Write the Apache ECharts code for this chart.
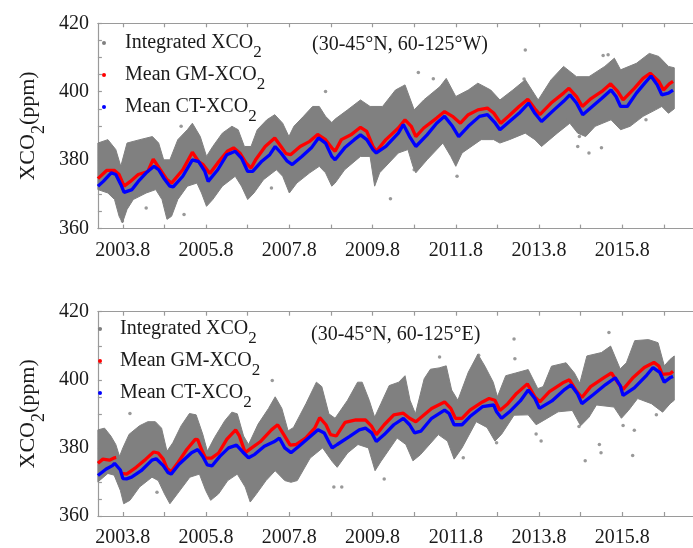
<!DOCTYPE html>
<html><head><meta charset="utf-8">
<script src="https://cdn.jsdelivr.net/npm/echarts@6/dist/echarts.min.js"></script>
<style>html,body{margin:0;padding:0;background:#fff}#c{width:693px;height:548px}</style>
</head><body><div id="c"></div>
<script>
// ---------- tick labels ----------
const tickYears = [2003.8,2004.8,2005.8,2006.8,2007.8,2008.8,2009.8,2010.8,2011.8,2012.8,2013.8,2014.8,2015.8,2016.8];
const labelYears = [2003.8,2005.8,2007.8,2009.8,2011.8,2013.8,2015.8];
const yLabels = [360,380,400,420];
const seriesNames = ['Integrated XCO2','Mean GM-XCO2','Mean CT-XCO2'];
const regionLabels = ['(30-45°N, 60-125°W)','(30-45°N, 60-125°E)'];

// ---------- top panel (30-45N, 60-125W) ----------
const topGmT = [2003.2,2003.41,2003.6,2003.71,2003.83,2003.98,2004.17,2004.4,2004.53,2004.7,2004.86,2004.97,2005.24,2005.47,2005.62,2005.73,2005.89,2006.08,2006.31,2006.46,2006.61,2006.76,2006.88,2006.99,2007.22,2007.45,2007.6,2007.72,2007.83,2008.06,2008.29,2008.48,2008.67,2008.82,2008.9,2009.05,2009.28,2009.51,2009.66,2009.81,2009.89,2010.12,2010.42,2010.58,2010.73,2010.84,2011.03,2011.34,2011.53,2011.72,2011.91,2012.1,2012.33,2012.56,2012.71,2012.88,2013.08,2013.32,2013.53,2013.7,2013.82,2014.09,2014.39,2014.52,2014.7,2014.84,2015.05,2015.31,2015.52,2015.69,2015.82,2016.09,2016.3,2016.47,2016.68,2016.79,2016.93,2017.02];
const topGmV = [374.6,377.0,377.0,375.8,372.4,373.8,375.8,376.7,380.3,377.2,374.3,373.3,377.2,382.3,379.6,378.7,376.1,379.2,382.6,383.6,382.1,379.2,377.7,380.1,384.0,386.5,384.0,381.9,381.6,384.0,385.5,387.5,386.0,383.6,382.6,386.0,387.4,389.6,388.4,384.0,382.6,386.0,389.4,391.8,389.9,386.9,389.4,392.3,394.2,392.8,390.8,393.3,394.7,395.2,393.8,390.8,393.0,395.7,397.8,395.0,393.3,396.7,399.6,401.0,398.6,395.7,398.0,400.1,402.3,400.1,397.6,401.0,403.9,405.4,403.0,400.5,402.3,403.0];
const topCtT = [2003.2,2003.33,2003.52,2003.63,2003.75,2003.83,2004.02,2004.17,2004.36,2004.55,2004.66,2004.78,2004.93,2005.01,2005.24,2005.47,2005.62,2005.77,2005.85,2006.08,2006.3,2006.5,2006.65,2006.8,2006.92,2007.14,2007.33,2007.46,2007.6,2007.75,2007.87,2008.1,2008.33,2008.5,2008.67,2008.82,2008.9,2009.13,2009.36,2009.51,2009.66,2009.81,2009.89,2010.12,2010.42,2010.54,2010.69,2010.84,2011.11,2011.34,2011.53,2011.72,2011.87,2012.1,2012.37,2012.56,2012.75,2012.86,2013.09,2013.32,2013.55,2013.7,2013.86,2014.16,2014.39,2014.54,2014.7,2014.85,2015.08,2015.31,2015.53,2015.65,2015.76,2015.92,2016.14,2016.34,2016.49,2016.64,2016.75,2016.91,2017.02];
const topCtV = [372.4,373.8,376.3,375.8,372.9,370.6,371.4,373.8,376.3,378.2,377.2,374.8,372.4,372.2,375.3,380.1,379.6,376.7,373.8,377.2,381.6,382.6,380.6,376.7,376.7,379.7,381.6,384.0,382.1,379.7,378.7,381.1,383.6,386.5,385.0,381.1,380.1,383.6,386.0,387.4,386.0,383.1,382.1,384.0,387.9,390.4,386.9,384.0,387.4,390.8,392.8,389.9,386.9,389.9,392.8,393.3,390.8,388.9,391.3,393.7,396.7,393.7,391.3,394.7,397.2,399.1,396.7,393.3,395.7,398.1,400.5,398.6,395.7,395.7,399.6,402.5,404.6,402.0,399.1,399.6,400.5];
// envelope of the integrated XCO2 cloud
const topUpT = [2003.2,2003.44,2003.63,2003.75,2003.9,2004.21,2004.51,2004.66,2004.78,2004.93,2005.12,2005.35,2005.47,2005.66,2005.81,2005.96,2006.19,2006.42,2006.57,2006.72,2006.88,2007.03,2007.26,2007.45,2007.64,2007.79,2007.91,2008.14,2008.36,2008.52,2008.67,2008.82,2008.9,2009.2,2009.51,2009.74,2010.04,2010.35,2010.58,2010.8,2011.03,2011.42,2011.57,2011.8,2012.1,2012.33,2012.64,2012.86,2013.17,2013.47,2013.78,2014.09,2014.39,2014.7,2015.0,2015.38,2015.61,2015.76,2016.14,2016.45,2016.68,2016.91,2017.05];
const topUpV = [385.0,386.0,383.1,378.2,385.0,386.0,386.9,385.0,380.1,380.1,386.0,388.9,390.8,386.9,381.1,384.0,387.9,389.9,388.9,384.0,384.0,388.9,391.8,393.3,390.8,386.9,389.9,392.8,395.7,395.7,392.8,391.0,392.0,394.7,397.6,395.7,395.7,400.5,402.0,394.7,397.6,401.5,403.9,398.6,400.5,402.5,400.5,397.6,400.5,403.5,397.6,403.5,407.4,404.4,404.4,407.4,409.8,406.4,408.3,411.2,410.3,407.4,407.0];
const topLoT = [2003.2,2003.44,2003.6,2003.71,2003.79,2003.9,2004.05,2004.36,2004.59,2004.74,2004.86,2004.97,2005.12,2005.35,2005.58,2005.69,2005.81,2005.96,2006.19,2006.5,2006.65,2006.8,2006.95,2007.18,2007.49,2007.64,2007.8,2007.98,2008.29,2008.52,2008.67,2008.82,2008.9,2009.13,2009.51,2009.74,2009.85,2009.97,2010.42,2010.65,2010.77,2010.84,2011.11,2011.49,2011.68,2011.8,2011.95,2012.41,2012.71,2012.86,2013.09,2013.47,2013.7,2013.86,2014.24,2014.54,2014.73,2014.92,2015.15,2015.53,2015.76,2015.99,2016.3,2016.6,2016.75,2016.91,2017.05];
const topLoV = [371.4,370.4,368.5,363.6,361.7,365.6,368.5,370.4,371.4,368.5,362.7,363.6,368.5,372.4,373.3,370.4,366.5,368.5,372.4,375.3,372.4,368.5,370.4,374.3,377.2,375.3,370.4,373.3,376.3,378.2,376.3,372.4,373.3,377.2,381.1,381.1,372.4,376.3,382.1,383.1,378.2,376.3,380.1,385.0,381.1,378.2,382.1,386.0,386.0,385.0,386.0,387.9,386.0,384.0,387.9,390.8,387.9,386.9,389.9,391.8,388.9,389.9,392.8,394.7,395.7,393.7,395.0];
const topOutT = [2003.79,2004.36,2005.27,2007.37,2008.67,2010.9,2011.26,2013.47,2011.83,2010.23,2010.8,2014.73,2015.0,2015.3,2014.77,2013.44,2015.34,2015.46,2005.2,2014.43,2016.37];
const topOutV = [362.2,366.0,364.1,371.9,400.1,405.6,403.8,412.2,375.3,368.7,377.2,384.0,382.1,383.6,386.9,403.7,410.6,410.8,389.9,391.8,391.8];

// ---------- bottom panel (30-45N, 60-125E) ----------
const botGmT = [2003.2,2003.32,2003.48,2003.6,2003.64,2003.7,2003.78,2003.89,2004.12,2004.35,2004.54,2004.65,2004.77,2004.86,2004.96,2005.13,2005.34,2005.54,2005.6,2005.68,2005.79,2005.93,2006.1,2006.3,2006.51,2006.6,2006.74,2006.87,2007.1,2007.37,2007.52,2007.67,2007.82,2007.96,2008.19,2008.41,2008.53,2008.68,2008.79,2008.93,2009.14,2009.4,2009.63,2009.78,2009.89,2010.08,2010.31,2010.54,2010.69,2010.84,2010.99,2011.22,2011.53,2011.68,2011.79,2011.95,2012.14,2012.44,2012.6,2012.74,2012.86,2013.05,2013.26,2013.52,2013.7,2013.82,2014.05,2014.4,2014.53,2014.7,2014.83,2015.04,2015.38,2015.54,2015.73,2015.82,2016.05,2016.33,2016.56,2016.68,2016.76,2016.95,2017.02];
const botGmV = [375.5,376.7,376.4,377.1,377.2,null,372.5,372.3,374.3,376.7,378.8,378.5,376.7,374.0,373.0,375.8,379.6,382.5,382.4,379.8,377.0,377.0,378.5,382.6,385.3,383.5,378.6,379.8,381.8,385.3,386.8,383.8,380.8,381.0,382.9,385.8,388.9,386.8,383.9,383.5,387.5,388.2,388.2,386.3,383.9,386.8,389.7,390.2,388.7,387.7,389.2,391.6,393.5,391.6,388.7,388.7,391.1,393.5,394.5,394.0,391.0,393.0,396.0,398.8,395.0,393.5,396.5,399.3,400.0,396.7,394.8,398.0,400.8,402.0,398.5,397.2,400.5,403.6,405.1,404.0,401.6,401.8,402.5];
const botCtT = [2003.2,2003.4,2003.55,2003.6,2003.74,2003.8,2003.89,2004.01,2004.24,2004.5,2004.6,2004.77,2004.88,2004.96,2005.15,2005.45,2005.6,2005.72,2005.83,2005.94,2006.13,2006.34,2006.53,2006.68,2006.82,2006.97,2007.2,2007.43,2007.56,2007.69,2007.84,2008.03,2008.26,2008.49,2008.64,2008.76,2008.83,2008.95,2009.25,2009.48,2009.63,2009.78,2009.89,2010.08,2010.31,2010.54,2010.69,2010.81,2010.96,2011.22,2011.53,2011.64,2011.76,2011.95,2012.14,2012.44,2012.71,2012.78,2012.9,2013.09,2013.35,2013.54,2013.7,2013.81,2014.11,2014.42,2014.57,2014.72,2014.83,2015.1,2015.4,2015.63,2015.75,2015.82,2016.09,2016.39,2016.54,2016.7,2016.81,2016.96,2017.02];
const botCtV = [371.9,373.8,374.8,375.5,373.5,371.0,370.9,371.4,373.3,376.4,376.8,374.8,372.8,372.3,375.2,378.6,379.5,377.5,375.0,374.7,377.5,380.0,380.8,378.8,377.1,378.1,380.5,381.8,382.9,380.0,378.6,380.5,382.9,385.3,384.4,381.5,380.0,381.0,383.4,385.3,385.8,384.4,381.9,383.9,386.8,388.7,386.8,384.4,384.9,388.7,391.1,390.1,386.8,386.8,389.2,392.1,392.6,390.6,388.7,390.6,393.8,397.0,394.5,391.6,393.8,397.2,398.5,396.0,393.0,395.6,398.6,400.6,398.3,395.4,397.6,401.4,403.6,402.2,399.3,400.7,401.0];
const botUpT = [2003.2,2003.36,2003.51,2003.63,2003.72,2003.8,2003.95,2004.2,2004.4,2004.58,2004.73,2004.86,2005.0,2005.2,2005.4,2005.56,2005.72,2005.83,2006.0,2006.25,2006.42,2006.55,2006.7,2006.82,2007.05,2007.3,2007.46,2007.62,2007.77,2007.9,2008.2,2008.45,2008.58,2008.75,2008.9,2009.2,2009.44,2009.55,2009.72,2009.85,2010.0,2010.2,2010.43,2010.58,2010.7,2010.83,2011.04,2011.19,2011.4,2011.57,2011.7,2011.85,2012.1,2012.33,2012.5,2012.7,2012.8,2013.0,2013.24,2013.54,2013.77,2013.9,2014.1,2014.45,2014.65,2014.78,2014.95,2015.3,2015.52,2015.75,2015.9,2016.1,2016.43,2016.66,2016.81,2016.95,2017.05];
const botUpV = [385.3,385.8,383.5,381.0,377.5,380.0,384.0,386.5,387.7,387.7,385.8,379.0,381.5,386.5,390.1,389.7,384.0,379.0,383.0,388.0,390.5,390.0,383.5,381.0,387.0,391.6,395.0,391.6,385.0,386.0,393.0,399.3,398.0,390.0,388.7,394.0,399.3,399.3,394.0,389.0,393.0,398.3,399.3,401.2,394.0,390.0,400.3,403.1,403.5,404.1,397.0,394.0,402.2,407.5,404.0,399.3,395.0,401.2,402.0,403.0,397.4,398.0,404.0,405.0,402.0,399.0,407.0,408.0,409.9,403.2,405.0,411.5,411.8,410.9,404.1,406.0,407.0];
const botLoT = [2003.2,2003.44,2003.59,2003.74,2003.82,2003.97,2004.2,2004.5,2004.65,2004.8,2004.93,2005.11,2005.41,2005.64,2005.79,2005.91,2006.1,2006.32,2006.55,2006.74,2006.86,2007.01,2007.24,2007.46,2007.69,2007.84,2007.99,2008.3,2008.6,2008.83,2008.95,2009.2,2009.45,2009.7,2009.86,2010.0,2010.39,2010.6,2010.77,2010.95,2011.38,2011.6,2011.76,2011.95,2012.29,2012.55,2012.74,2012.9,2013.2,2013.54,2013.73,2013.9,2014.26,2014.6,2014.8,2015.0,2015.18,2015.6,2015.78,2015.95,2016.17,2016.5,2016.77,2016.95,2017.05];
const botLoV = [370.0,372.5,372.0,367.5,363.6,364.6,368.5,371.4,370.4,366.5,363.6,366.5,371.4,372.3,367.5,364.6,366.5,370.4,372.3,368.5,364.1,366.5,370.4,373.3,370.4,369.9,370.4,377.0,380.0,376.0,374.3,378.5,381.0,380.0,373.3,376.0,382.9,381.0,376.2,378.0,383.9,382.0,376.7,380.0,387.7,386.0,382.0,384.0,389.6,389.7,386.8,388.0,390.6,391.0,386.5,389.0,392.6,392.0,388.7,391.0,394.5,393.0,390.5,393.0,394.0];
const botOutT = [2003.97,2007.39,2008.87,2009.06,2010.08,2011.41,2012.35,2013.2,2013.22,2014.91,2015.29,2015.25,2016.05,2013.85,2013.73,2012.78,2014.76,2015.82,2016.09,2016.62,2015.48,2011.98,2004.62];
const botOutV = [390.1,399.8,368.5,368.5,370.9,406.7,407.2,412.0,406.2,376.2,378.6,381.0,377.8,382.0,384.1,381.5,386.3,386.6,385.2,389.7,413.9,377.1,367.0];

// ---------- build ----------
const FONT = "'Liberation Serif', 'Times New Roman', serif";
const GREY = '#808080', AXIS = '#9a9a9a', TXT = '#1a1a1a';
function zip(t, v) { return t.map((x, i) => [x, v[i] === null ? '-' : v[i]]); }

function band(gi, upT, upV, loT, loV) {
  const pts = zip(upT, upV).concat(zip(loT, loV).reverse());
  return {
    type: 'custom', name: seriesNames[0], xAxisIndex: gi * 2, yAxisIndex: gi,
    itemStyle: { color: GREY }, silent: true, z: 1,
    data: pts,
    renderItem: function (params, api) {
      if (params.dataIndex !== 0) return null;
      const poly = pts.map(p => api.coord(p));
      return { type: 'polygon', shape: { points: poly }, style: { fill: GREY, stroke: GREY, lineWidth: 1 } };
    }
  };
}
function meanLine(gi, name, t, v, color) {
  return { type: 'line', name, xAxisIndex: gi * 2, yAxisIndex: gi, data: zip(t, v),
    showSymbol: false, symbol: 'circle', connectNulls: false, z: 3,
    itemStyle: { color }, lineStyle: { color, width: 3.3 } };
}
function outliers(gi, t, v) {
  return { type: 'scatter', name: seriesNames[0], xAxisIndex: gi * 2, yAxisIndex: gi,
    data: zip(t, v), symbolSize: 3.5, itemStyle: { color: GREY }, z: 2 };
}
function xAxes(gi, margin) {
  const base = { type: 'value', gridIndex: gi, min: 2003.2, max: 2017.5,
    axisLine: { show: true, lineStyle: { color: AXIS, width: 1.2 } },
    axisTick: { show: true, inside: true, length: 4, customValues: tickYears, lineStyle: { color: AXIS, width: 1.2 } },
    splitLine: { show: false } };
  return [
    Object.assign({}, base, { position: 'bottom',
      axisLabel: { customValues: labelYears, formatter: v => v.toFixed(1), fontFamily: FONT, fontSize: 20, color: TXT, margin } }),
    Object.assign({}, base, { position: 'top', axisLabel: { show: false } })
  ];
}
function yAxis(gi) {
  return { type: 'value', gridIndex: gi, min: 360, max: 420, interval: 5, position: 'left',
    axisLine: { show: true, lineStyle: { color: AXIS, width: 1.2 } },
    axisTick: { show: true, inside: true, length: 4, lineStyle: { color: AXIS, width: 1.2 } },
    axisLabel: { customValues: yLabels, fontFamily: FONT, fontSize: 20, color: TXT, margin: 9 },
    splitLine: { show: false },
    name: 'XCO{sub|2}(ppm)', nameLocation: 'middle', nameRotate: 90, nameGap: 46,
    nameTextStyle: { fontFamily: FONT, fontSize: 22, color: TXT, lineHeight: 36,
      rich: { sub: { fontFamily: FONT, fontSize: 18, lineHeight: 14, padding: [22, 0, 0, 0], color: TXT } } } };
}
function legend(top, left, pad) {
  return { orient: 'vertical', top, left, padding: 0, icon: 'circle', itemWidth: 4, itemHeight: 4, itemGap: -4,
    selectedMode: false, data: seriesNames,
    formatter: n => n.replace('XCO2', 'XCO{sub|2}'),
    textStyle: { fontFamily: FONT, fontSize: 20, color: TXT, lineHeight: 32, padding: [0, 0, 0, pad],
      rich: { sub: { fontFamily: FONT, fontSize: 17, lineHeight: 13, padding: [19, 0, 0, 0], color: TXT } } } };
}

const chart = echarts.init(document.getElementById('c'), null, { renderer: 'canvas' });
chart.setOption({
  backgroundColor: '#ffffff',
  animation: false,
  grid: [
    { left: 91, top: 23.3, width: 624.2, height: 205.3 },
    { left: 88.3, top: 311.7, width: 627.3, height: 207.6 }
  ],
  xAxis: xAxes(0, 12).concat(xAxes(1, 12)),
  yAxis: [yAxis(0), yAxis(1)],
  legend: [legend(25, 102, 14), legend(311, 98, 13)],
  graphic: [
    { type: 'text', left: 312, top: 35, style: { text: regionLabels[0], font: '20px ' + FONT, fill: TXT } },
    { type: 'text', left: 311, top: 325, style: { text: regionLabels[1], font: '20px ' + FONT, fill: TXT } }
  ],
  series: [
    band(0, topUpT, topUpV, topLoT, topLoV),
    outliers(0, topOutT, topOutV),
    meanLine(0, seriesNames[1], topGmT, topGmV, '#ff0000'),
    meanLine(0, seriesNames[2], topCtT, topCtV, '#0000ff'),
    band(1, botUpT, botUpV, botLoT, botLoV),
    outliers(1, botOutT, botOutV),
    meanLine(1, seriesNames[1], botGmT, botGmV, '#ff0000'),
    meanLine(1, seriesNames[2], botCtT, botCtV, '#0000ff')
  ]
});
</script></body></html>
